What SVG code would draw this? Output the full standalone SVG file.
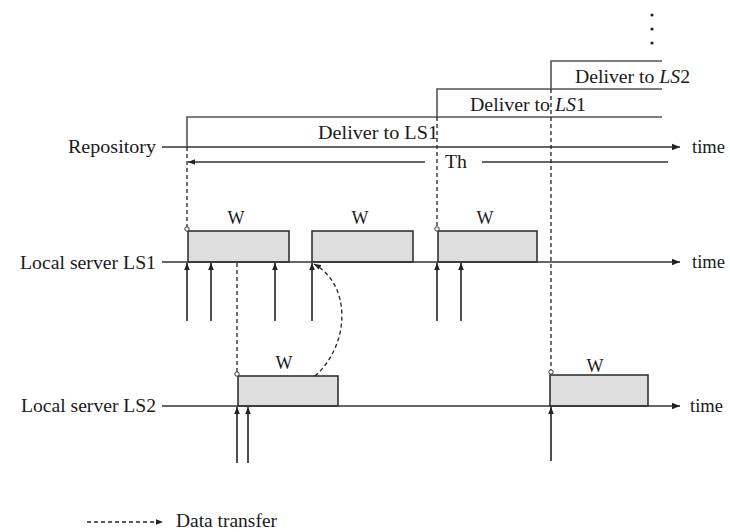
<svg xmlns="http://www.w3.org/2000/svg" width="730" height="532" viewBox="0 0 730 532">
<style>
text{font-family:"Liberation Serif","Times New Roman",serif;font-size:18px;fill:#1a1a1a}
.ax{stroke:#333;stroke-width:1.6;fill:none}
.rep{stroke:#666;stroke-width:2;fill:none}
.step{stroke:#555;stroke-width:1.6;fill:none}
.dash{stroke:#222;stroke-width:1.3;stroke-dasharray:4 3;fill:none}
.up{stroke:#222;stroke-width:1.6;fill:none;marker-end:url(#ah)}
.box{fill:#dedede;stroke:#333;stroke-width:1.6}
.circ{fill:#fff;stroke:#333;stroke-width:1}
</style>
<defs>
<marker id="ah" viewBox="0 0 10 10" refX="10" refY="5" markerWidth="7" markerHeight="7" orient="auto" markerUnits="userSpaceOnUse">
<path d="M0,1 L10,5 L0,9 Z" fill="#222"/>
</marker>
<marker id="ah2" viewBox="0 0 10 10" refX="10" refY="5" markerWidth="10" markerHeight="8" orient="auto" markerUnits="userSpaceOnUse">
<path d="M0,1 L10,5 L0,9 Z" fill="#222"/>
</marker>
</defs>

<g id="repository">
<text x="156" y="153" text-anchor="end" textLength="88" lengthAdjust="spacingAndGlyphs">Repository</text>
<line class="rep" x1="162" y1="147" x2="680" y2="147" marker-end="url(#ah2)"/>
<text x="692" y="153" textLength="33" lengthAdjust="spacingAndGlyphs">time</text>
</g>

<g id="deliveries">
<polyline class="step" points="187,147 187,117 662,117"/>
<polyline class="step" points="437,117 437,89 662,89"/>
<polyline class="step" points="551,89 551,61 662,61"/>
<text x="318" y="139" textLength="120" lengthAdjust="spacingAndGlyphs">Deliver to LS1</text>
<text x="470" y="111" textLength="116" lengthAdjust="spacingAndGlyphs">Deliver to <tspan font-style="italic">LS</tspan>1</text>
<text x="575" y="83" textLength="115" lengthAdjust="spacingAndGlyphs">Deliver to <tspan font-style="italic">LS</tspan>2</text>
<circle cx="652" cy="15" r="1.6" fill="#222"/>
<circle cx="652" cy="29" r="1.6" fill="#222"/>
<circle cx="652" cy="43" r="1.6" fill="#222"/>
</g>

<g id="th">
<line class="ax" x1="425" y1="162" x2="188" y2="162" marker-end="url(#ah)"/>
<text x="445" y="168" textLength="22" lengthAdjust="spacingAndGlyphs">Th</text>
<line class="ax" x1="482" y1="162" x2="668" y2="162"/>
</g>

<g id="ls1">
<text x="156" y="269" text-anchor="end" textLength="136" lengthAdjust="spacingAndGlyphs">Local server LS1</text>
<rect class="box" x="188" y="231" width="101" height="31"/>
<rect class="box" x="312" y="231" width="101" height="31"/>
<rect class="box" x="438" y="231" width="99" height="31"/>
<line class="ax" x1="162" y1="262" x2="680" y2="262" marker-end="url(#ah2)"/>
<text x="692" y="268" textLength="33" lengthAdjust="spacingAndGlyphs">time</text>
<text x="236" y="224" text-anchor="middle">W</text>
<text x="360" y="224" text-anchor="middle">W</text>
<text x="485" y="224" text-anchor="middle">W</text>
</g>

<g id="ls2">
<text x="156" y="412" text-anchor="end" textLength="135" lengthAdjust="spacingAndGlyphs">Local server LS2</text>
<rect class="box" x="238" y="376" width="100" height="30"/>
<rect class="box" x="550" y="375" width="98" height="31"/>
<line class="ax" x1="162" y1="406" x2="680" y2="406" marker-end="url(#ah2)"/>
<text x="690" y="412" textLength="33" lengthAdjust="spacingAndGlyphs">time</text>
<text x="284" y="369" text-anchor="middle">W</text>
<text x="595" y="372" text-anchor="middle">W</text>
</g>

<g id="connectors">
<line class="dash" x1="187" y1="147" x2="187" y2="228"/>
<line class="dash" x1="437" y1="117" x2="437" y2="228"/>
<line class="dash" x1="551" y1="89" x2="551" y2="370"/>
<line class="dash" x1="237" y1="263" x2="237" y2="372"/>
<circle class="circ" cx="187" cy="229" r="2.2"/>
<circle class="circ" cx="437" cy="229" r="2.2"/>
<circle class="circ" cx="237" cy="374" r="2.2"/>
<circle class="circ" cx="551" cy="372" r="2.2"/>
<path class="dash" d="M315,376 C350,345 352,285 314,264" marker-end="url(#ah)"/>
<line class="up" x1="187" y1="321" x2="187" y2="263"/>
<line class="up" x1="211" y1="321" x2="211" y2="263"/>
<line class="up" x1="275" y1="321" x2="275" y2="263"/>
<line class="up" x1="312" y1="321" x2="312" y2="263"/>
<line class="up" x1="437" y1="321" x2="437" y2="263"/>
<line class="up" x1="461" y1="321" x2="461" y2="263"/>
<line class="up" x1="237" y1="463" x2="237" y2="407"/>
<line class="up" x1="248" y1="463" x2="248" y2="407"/>
<line class="up" x1="551" y1="461" x2="551" y2="407"/>
</g>

<g id="legend">
<line class="dash" x1="87" y1="522" x2="163" y2="522" stroke-dasharray="3 3" marker-end="url(#ah)"/>
<text x="176" y="527" textLength="101" lengthAdjust="spacingAndGlyphs">Data transfer</text>
</g>
</svg>
